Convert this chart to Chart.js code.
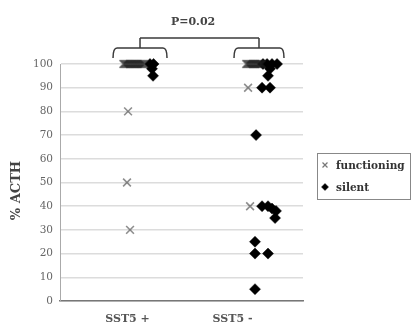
<!DOCTYPE html>
<html><head><meta charset="utf-8">
<script src="https://cdn.jsdelivr.net/npm/chart.js@4"></script>
<style>html,body{margin:0;padding:0;background:#fff}#wrap{width:416px;height:322px}</style>
</head><body><div id="wrap"><canvas id="c" width="416" height="322"></canvas></div>
<script>
const categories = ['SST5 +', 'SST5 -'];
const yTicks = [0,10,20,30,40,50,60,70,80,90,100];
// functioning (x = group position 1 or 2 plus jitter, y = % ACTH)
const functioningX = [0.96,0.97,0.98,0.99,1.00,1.01,1.02,1.03,1.04,1.05,1.06,1.07,1.08,1.09,1.10,1.11,1.12,1.13,1.14,1.15,1.16,
                      1.005,0.995,1.024,
                      2.13,2.14,2.15,2.16,2.17,2.18,2.19,2.20,2.21,2.22,2.23,2.24,2.25,2.26,2.27,2.28,
                      2.148,2.167];
const functioningY = [100,100,100,100,100,100,100,100,100,100,100,100,100,100,100,100,100,100,100,100,100,
                      80,50,30,
                      100,100,100,100,100,100,100,100,100,100,100,100,100,100,100,100,
                      90,40];
// silent
const silentX = [1.214,1.248,1.233,1.243,
                 2.29,2.329,2.376,2.424,2.357,2.338,2.281,2.357,2.224,2.281,2.338,2.376,2.414,2.405,2.214,2.214,2.338,2.214];
const silentY = [100,100,98,95,
                 100,100,100,100,98,95,90,90,70,40,40,39,38,35,25,20,20,5];
const pText = 'P=0.02';
const yTitle = '% ACTH';

const serif = '"DejaVu Serif", "Liberation Serif", serif';
const toPts = (xs, ys) => xs.map((x,i)=>({x, y: ys[i]}));

const annot = {
  id: 'annot',
  afterDraw(chart) {
    const ctx = chart.ctx, xs = chart.scales.x, ys = chart.scales.y, top = chart.chartArea.top;
    ctx.save();
    // y title
    ctx.save();
    ctx.translate(17, (ys.top + ys.bottom)/2 + 8);
    ctx.rotate(-Math.PI/2);
    ctx.font = 'bold 13px ' + serif; ctx.fillStyle = '#444';
    ctx.textAlign = 'center'; ctx.textBaseline = 'middle';
    ctx.fillText(yTitle, 0, 0);
    ctx.restore();
    // brackets
    ctx.strokeStyle = '#3a3a3a'; ctx.lineWidth = 1.5;
    const brackets = [[0.862,1.376],[2.014,2.49]];
    const centers = [];
    brackets.forEach(([a,b])=>{
      const x1 = xs.getPixelForValue(a), x2 = xs.getPixelForValue(b);
      const yb = top - 16, ye = top - 6;
      ctx.beginPath();
      ctx.moveTo(x1, ye); ctx.quadraticCurveTo(x1, yb, x1+4, yb);
      ctx.lineTo(x2-4, yb); ctx.quadraticCurveTo(x2, yb, x2, ye);
      ctx.stroke();
      const cx = (x1+x2)/2; centers.push(cx);
      ctx.beginPath(); ctx.moveTo(cx, yb); ctx.lineTo(cx, top-26); ctx.stroke();
    });
    ctx.beginPath(); ctx.moveTo(centers[0], top-26); ctx.lineTo(centers[1], top-26); ctx.stroke();
    ctx.fillStyle = '#444'; ctx.font = 'bold 11px ' + serif;
    ctx.textAlign = 'center'; ctx.textBaseline = 'middle';
    ctx.fillText(pText, xs.getPixelForValue(1.624), top - 42);
    // legend
    const lx = 317, ly = 153, lw = 93, lh = 46;
    ctx.strokeStyle = '#888'; ctx.lineWidth = 1;
    ctx.strokeRect(lx+0.5, ly+0.5, lw, lh);
    ctx.font = 'bold 10.5px ' + serif; ctx.textAlign = 'left';
    const ds = chart.data.datasets;
    const legendStyles = [{c: '#777', w: 1.2}, {c: '#000', w: 0.5}];
    [[ds[0], ds[0].label, ly+12, legendStyles[0]],[ds[1], ds[1].label, ly+34, legendStyles[1]]].forEach(([d, t, y, st])=>{
      ctx.fillStyle = st.c; ctx.strokeStyle = st.c; ctx.lineWidth = st.w;
      Chart.helpers.drawPoint(ctx, {pointStyle: d.pointStyle, radius: 3.5, borderWidth: st.w}, lx+8, y);
      ctx.fillStyle = '#333';
      ctx.fillText(t, lx+19, y+1);
    });
    ctx.restore();
  }
};

new Chart(document.getElementById('c'), {
  type: 'scatter',
  data: { datasets: [
    { label: 'functioning', data: toPts(functioningX, functioningY), pointStyle: 'crossRot', pointRadius: 5.5,
      pointBorderColor: 'rgba(30,30,30,0.5)', pointBackgroundColor: 'rgba(30,30,30,0.5)', pointBorderWidth: 1.6, clip: false },
    { label: 'silent', data: toPts(silentX, silentY), pointStyle: 'rectRot', pointRadius: 5.5,
      pointBorderColor: '#000', pointBackgroundColor: '#000', pointBorderWidth: 0.5, clip: false }
  ]},
  options: {
    responsive: false, animation: false, events: [],
    layout: { padding: { top: 64, right: 113, left: 0, bottom: 0 } },
    plugins: { legend: { display: false }, tooltip: { enabled: false } },
    scales: {
      x: { type: 'linear', min: 0.357, max: 2.671,
        afterFit: s => { s.height = 21; },
        afterBuildTicks: s => { s.ticks = categories.map((c,i)=>({value: i+1})); },
        ticks: { callback: v => categories[Math.round(v)-1], font: { family: serif, size: 11, weight: 'bold' }, color: '#555', padding: 4, maxRotation: 0 },
        grid: { display: false },
        border: { color: '#777', width: 1.5 } },
      y: { min: 0, max: 100,
        afterFit: s => { s.width = 60; },
        afterBuildTicks: s => { s.ticks = yTicks.map(v=>({value: v})); },
        ticks: { font: { family: serif, size: 10.5 }, color: '#666', padding: 7 },
        grid: { color: '#dcdcdc', lineWidth: 1.5, drawTicks: false },
        border: { color: '#aaa', width: 1 },
        title: { display: false, text: yTitle } }
    }
  },
  plugins: [annot]
});
</script></body></html>
